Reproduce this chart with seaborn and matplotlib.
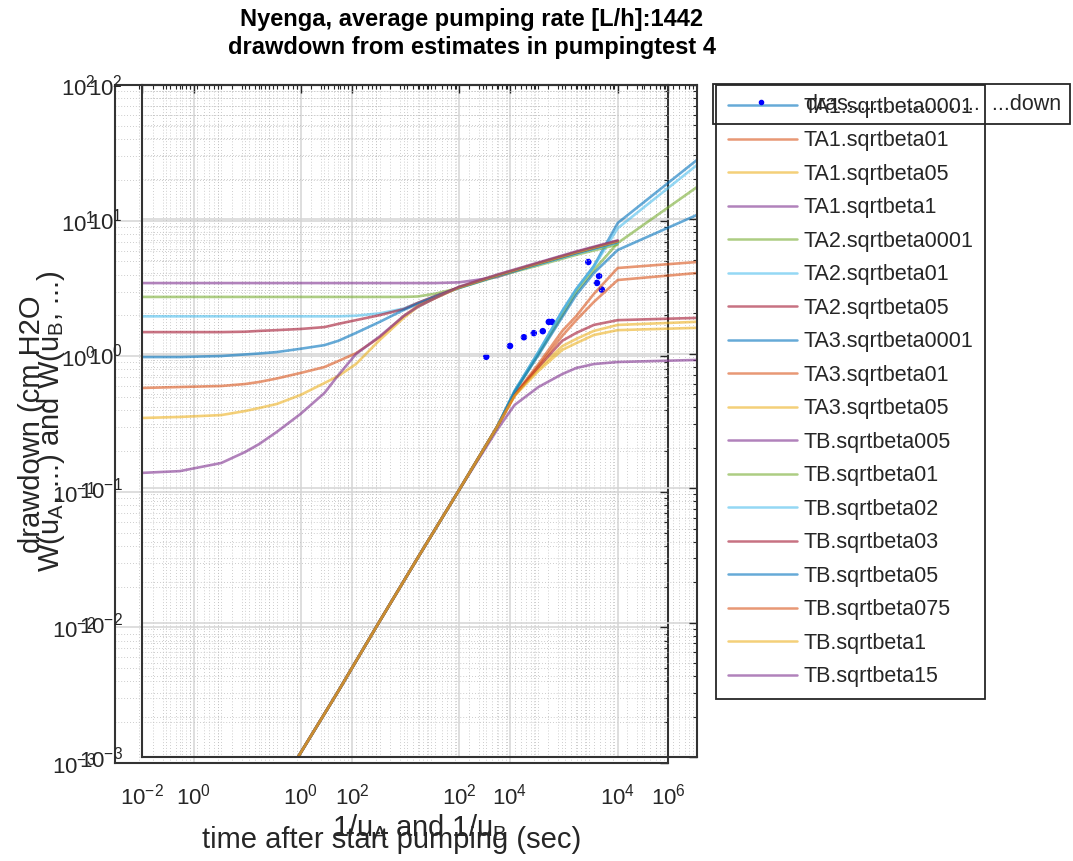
import numpy as np
import pandas as pd
import matplotlib
matplotlib.use("Agg")
import matplotlib.pyplot as plt
import seaborn as sns
from matplotlib.ticker import LogLocator, FuncFormatter, NullFormatter
from matplotlib.lines import Line2D

sns.set_theme(style="white")
plt.rcParams['font.family'] = ['Liberation Sans', 'DejaVu Sans']
plt.rcParams['axes.unicode_minus'] = False
plt.rcParams['mathtext.fontset'] = 'custom'
plt.rcParams['mathtext.rm'] = 'Liberation Sans'
plt.rcParams['mathtext.it'] = 'Liberation Sans:italic'
plt.rcParams['mathtext.default'] = 'regular'

matlab_colors = ['#0072BD', '#D95319', '#EDB120', '#7E2F8E', '#77AC30', '#4DBEEE', '#A2142F']

# ---------------- data ----------------
# measured drawdown (time in s, drawdown in cm H2O)
dd_time = [5000, 10000, 15000, 20000, 26000, 31000, 34000, 98000, 126000, 134000, 145000]
dd_value = [0.99, 1.19, 1.38, 1.48, 1.53, 1.79, 1.79, 4.95, 3.47, 3.90, 3.10]

# type A curves, x = 1/u_A
ta_x = [0.93, 3, 10, 30, 100, 300, 500, 1000, 2000, 3000, 5000, 10000, 100000]
ta1_sqrtbeta0001 = [0.001, 0.0031, 0.0103, 0.0303, 0.0971, 0.285, 0.529, 1.03, 2.08, 3.03, 4.50, 9.40, 27.7]
ta1_sqrtbeta01 = [0.001, 0.0031, 0.0103, 0.0303, 0.0971, 0.285, 0.494, 0.839, 1.48, 1.91, 2.79, 4.35, 4.82]
ta1_sqrtbeta05 = [0.001, 0.0031, 0.0103, 0.0303, 0.0971, 0.285, 0.494, 0.771, 1.14, 1.29, 1.48, 1.64, 1.73]
ta1_sqrtbeta1 = [0.001, 0.0031, 0.0103, 0.0303, 0.0971, 0.271, 0.416, 0.566, 0.707, 0.784, 0.839, 0.869, 0.90]
ta2_sqrtbeta0001 = [0.001, 0.0031, 0.0103, 0.0303, 0.0971, 0.285, 0.520, 0.996, 1.94, 2.88, 4.20, 6.67, 17.4]
ta2_sqrtbeta01 = [0.001, 0.0031, 0.0103, 0.0303, 0.0971, 0.285, 0.529, 1.03, 2.08, 3.03, 4.45, 8.60, 25.4]
ta2_sqrtbeta05 = [0.001, 0.0031, 0.0103, 0.0303, 0.0971, 0.285, 0.494, 0.797, 1.25, 1.43, 1.64, 1.78, 1.85]
ta3_sqrtbeta0001 = [0.001, 0.0031, 0.0103, 0.0303, 0.0971, 0.285, 0.520, 0.980, 1.88, 2.74, 3.99, 5.92, 10.8]
ta3_sqrtbeta01 = [0.001, 0.0031, 0.0103, 0.0303, 0.0971, 0.285, 0.486, 0.811, 1.36, 1.78, 2.43, 3.54, 3.99]
ta3_sqrtbeta05 = [0.001, 0.0031, 0.0103, 0.0303, 0.0971, 0.285, 0.486, 0.745, 1.07, 1.20, 1.38, 1.50, 1.56]

# type B curves, x = 1/u_B
tb_x = [0.01, 0.03, 0.1, 0.2, 0.3, 0.5, 1, 2, 3, 5, 10, 20, 30, 50, 100, 300, 1000, 3000, 10000]
tb_sqrtbeta005 = [3.36, 3.36, 3.36, 3.36, 3.36, 3.36, 3.36, 3.36, 3.36, 3.36, 3.36, 3.36, 3.36, 3.36, 3.40, 3.72, 4.70, 5.70, 6.90]
tb_sqrtbeta01 = [2.65, 2.65, 2.65, 2.65, 2.65, 2.65, 2.65, 2.65, 2.65, 2.65, 2.65, 2.65, 2.67, 2.80, 3.09, 3.76, 4.55, 5.45, 6.50]
tb_sqrtbeta02 = [1.90, 1.90, 1.90, 1.90, 1.90, 1.90, 1.90, 1.90, 1.90, 1.92, 2.00, 2.17, 2.39, 2.69, 3.09, 3.79, 4.62, 5.55, 6.70]
tb_sqrtbeta03 = [1.45, 1.45, 1.45, 1.46, 1.48, 1.50, 1.53, 1.58, 1.67, 1.78, 1.94, 2.15, 2.39, 2.69, 3.12, 3.82, 4.70, 5.65, 6.85]
tb_sqrtbeta05 = [0.946, 0.946, 0.963, 0.989, 1.005, 1.03, 1.09, 1.16, 1.25, 1.43, 1.73, 2.12, 2.35, 2.65, 3.10, 3.80, 4.66, 5.62, 6.79]
tb_sqrtbeta075 = [0.557, 0.566, 0.576, 0.596, 0.617, 0.655, 0.720, 0.797, 0.884, 1.01, 1.33, 1.91, 2.27, 2.60, 3.14, 3.85, 4.74, 5.72, 6.92]
tb_sqrtbeta1 = [0.333, 0.339, 0.350, 0.375, 0.395, 0.423, 0.494, 0.606, 0.684, 0.839, 1.27, 1.85, 2.23, 2.60, 3.11, 3.83, 4.70, 5.68, 6.86]
tb_sqrtbeta15 = [0.130, 0.134, 0.154, 0.186, 0.213, 0.262, 0.357, 0.511, 0.695, 0.996, 1.35, 1.91, 2.23, 2.60, 3.16, 3.88, 4.78, 5.78, 6.98]

curve_names = ["TA1.sqrtbeta0001", "TA1.sqrtbeta01", "TA1.sqrtbeta05", "TA1.sqrtbeta1",
               "TA2.sqrtbeta0001", "TA2.sqrtbeta01", "TA2.sqrtbeta05",
               "TA3.sqrtbeta0001", "TA3.sqrtbeta01", "TA3.sqrtbeta05",
               "TB.sqrtbeta005", "TB.sqrtbeta01", "TB.sqrtbeta02", "TB.sqrtbeta03",
               "TB.sqrtbeta05", "TB.sqrtbeta075", "TB.sqrtbeta1", "TB.sqrtbeta15"]
curve_values = [ta1_sqrtbeta0001, ta1_sqrtbeta01, ta1_sqrtbeta05, ta1_sqrtbeta1,
                ta2_sqrtbeta0001, ta2_sqrtbeta01, ta2_sqrtbeta05,
                ta3_sqrtbeta0001, ta3_sqrtbeta01, ta3_sqrtbeta05,
                tb_sqrtbeta005, tb_sqrtbeta01, tb_sqrtbeta02, tb_sqrtbeta03,
                tb_sqrtbeta05, tb_sqrtbeta075, tb_sqrtbeta1, tb_sqrtbeta15]

title_text = "Nyenga, average pumping rate [L/h]:1442\ndrawdown from estimates in pumpingtest 4"
dd_label = "dras........ ....... .....  ...down"

# ---------------- figure ----------------
W, H = 1073, 861
fig = plt.figure(figsize=(W / 100, H / 100), dpi=100)
fig.patch.set_facecolor('white')

def fig_rect(l, t, r, b):
    return [l / W, 1 - b / H, (r - l) / W, (b - t) / H]

ax1 = fig.add_axes(fig_rect(115, 85, 668, 763))
ax2 = fig.add_axes(fig_rect(142, 85, 697, 757))
ax2.patch.set_visible(False)

exp_fmt = FuncFormatter(lambda v, p: r'$10^{%d}$' % int(round(np.log10(v))))

def style_axis(ax, xlim, ylim, xpad, ypad):
    ax.set_xscale('log')
    ax.set_yscale('log')
    ax.set_xlim(*xlim)
    ax.set_ylim(*ylim)
    ax.xaxis.set_major_locator(LogLocator(base=100, numticks=20))
    ax.xaxis.set_minor_locator(LogLocator(base=10, subs=np.arange(1, 10), numticks=100))
    ax.yaxis.set_major_locator(LogLocator(base=10, numticks=20))
    ax.yaxis.set_minor_locator(LogLocator(base=10, subs=np.arange(2, 10), numticks=100))
    ax.xaxis.set_major_formatter(exp_fmt)
    ax.yaxis.set_major_formatter(exp_fmt)
    ax.xaxis.set_minor_formatter(NullFormatter())
    ax.yaxis.set_minor_formatter(NullFormatter())
    ax.tick_params(which='both', direction='in', top=True, right=True,
                   colors='#262626', labelsize=16, labelcolor='#262626')
    ax.tick_params(which='major', length=6, width=1.0)
    ax.tick_params(axis='x', which='major', pad=xpad)
    ax.tick_params(axis='y', which='major', pad=ypad)
    ax.tick_params(which='minor', length=3, width=0.8)
    ax.grid(True, which='major', color='#d4d4d4', linewidth=1.1, linestyle='-')
    ax.grid(True, which='minor', color='#bdbdbd', linewidth=0.6, linestyle=(0, (1, 2.5)))
    ax.set_axisbelow(True)
    for s in ax.spines.values():
        s.set_color('#333333')
        s.set_linewidth(1.5)

style_axis(ax1, (0.1, 1e6), (1e-3, 1e2), xpad=15, ypad=14)
style_axis(ax2, (1e-2, 1e5), (1e-3, 1e2), xpad=19, ypad=14)

# measured drawdown (outer axes)
sns.scatterplot(x=dd_time, y=dd_value, ax=ax1, color='#0000ff', s=22,
                edgecolor='none', legend=False, zorder=3)

# type curves (inner axes)
handles = []
for i, (name, vals) in enumerate(zip(curve_names, curve_values)):
    xs = ta_x if name.startswith("TA") else tb_x
    c = matlab_colors[i % 7]
    sns.lineplot(x=xs, y=vals, ax=ax2, color=c, linewidth=1.9, alpha=0.6,
                 legend=False, sort=False)
    handles.append(Line2D([0], [0], color=c, linewidth=1.8, alpha=0.6))

# labels
ax1.set_title(title_text, fontsize=17, fontweight='bold', color='black', pad=22,
              linespacing=1.3, x=(472 - 115) / (668 - 115))
ax1.set_xlabel("time after start pumping (sec)", fontsize=21, color='#262626', labelpad=12)
ax1.set_ylabel("drawdown (cm H2O", fontsize=21, color='#262626', labelpad=4)
ax2.set_xlabel(r"1/u$_A$ and 1/u$_B$", fontsize=21, color='#262626', labelpad=2)
ax2.set_ylabel(r"W(u$_A$, ...) and W(u$_B$, ...)", fontsize=21, color='#262626', labelpad=8)

# legends
leg = ax2.legend(handles, curve_names, loc='upper left',
                 bbox_to_anchor=(716 / W, 1 - 85 / H), bbox_transform=fig.transFigure,
                 borderaxespad=0, fontsize=15.5, handlelength=3.2, handletextpad=0.3,
                 labelspacing=0.58, borderpad=0.55, frameon=True, fancybox=False,
                 framealpha=1, edgecolor='#262626', facecolor='white')
leg.get_frame().set_linewidth(1.3)
for t in leg.get_texts():
    t.set_color('#262626')

dd_handle = Line2D([0], [0], color='#0000ff', marker='.', linestyle='none', markersize=6)
leg2 = fig.legend([dd_handle], [dd_label], loc='upper left',
                  bbox_to_anchor=(713 / W, 1 - 84 / H), borderaxespad=0, fontsize=15.5,
                  handlelength=3.55, handletextpad=0.3, borderpad=0.45, frameon=True,
                  fancybox=False, framealpha=1, edgecolor='#262626', facecolor='none')
leg2.get_frame().set_facecolor('none')
leg2.get_frame().set_edgecolor('#262626')
leg2.get_frame().set_linewidth(1.3)
for t in leg2.get_texts():
    t.set_color('#262626')

fig.savefig("out.png", dpi=100, facecolor='white')
